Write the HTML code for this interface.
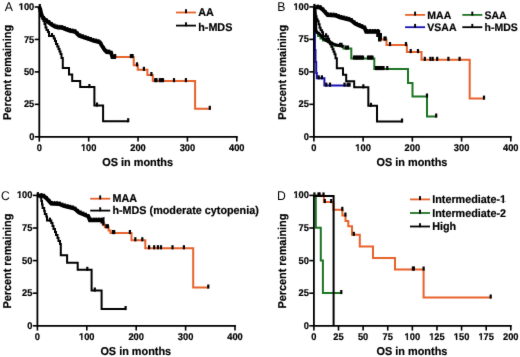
<!DOCTYPE html>
<html><head><meta charset="utf-8"><title>Survival curves</title>
<style>
html,body{margin:0;padding:0;background:#fff;}
body{width:520px;height:357px;overflow:hidden;}
svg{display:block;text-rendering:geometricPrecision;font-family:"Liberation Sans", sans-serif;}
</style></head>
<body>
<svg width="520" height="357" viewBox="0 0 520 357">
<defs><filter id="soft" x="0" y="0" width="520" height="357" filterUnits="userSpaceOnUse" color-interpolation-filters="sRGB"><feConvolveMatrix order="3" kernelMatrix="0.01 0.06 0.01 0.06 0.72 0.06 0.01 0.06 0.01" divisor="1" edgeMode="duplicate" preserveAlpha="true"/></filter></defs>
<g filter="url(#soft)">
<rect width="520" height="357" fill="#fff"/>
<path d="M39.30,7.00 L40.20,9.00 L41.00,13.00 L42.00,16.00 L43.50,18.30 L46.00,20.50 L49.00,22.60 L52.00,24.90 L55.00,26.60 L58.00,27.50 L62.00,27.70 L66.00,29.30 L70.00,30.70 L75.40,31.90 L77.00,33.50 L79.20,35.70 L84.60,37.60 L90.00,39.40 L94.00,40.90 L97.00,41.50 L99.80,42.30 L101.90,45.80 L104.70,50.00 L106.80,52.10 L111.00,52.50 L112.40,57.00 L133.70,57.00 L133.70,65.30 L137.80,65.30 L137.80,69.80 L147.40,69.80 L147.40,75.00 L152.80,75.00 L152.80,81.10 L195.10,81.10 L195.10,108.80 L209.80,108.80" fill="none" stroke="#E8622A" stroke-width="2.0" stroke-linejoin="miter" />
<path d="M39.30,7.00 L40.20,9.00 L41.00,13.00 L42.00,16.00 L43.50,18.30 L46.00,20.50 L49.00,22.60 L52.00,24.90 L55.00,26.60 L58.00,27.50 L62.00,27.70 L66.00,29.30 L70.00,30.70 L75.40,31.90 L77.00,33.50 L79.20,35.70 L84.60,37.60 L90.00,39.40 L94.00,40.90 L97.00,41.50 L99.80,42.30 L101.90,45.80 L104.70,50.00 L106.80,52.10 L111.00,52.50 L112.40,57.00 L116.00,57.00" fill="none" stroke="#000" stroke-width="4.0" stroke-linejoin="miter" />
<rect x="42.90" y="16.04" width="2.20" height="4.20" fill="#000"/><rect x="45.50" y="18.22" width="2.20" height="4.20" fill="#000"/><rect x="48.10" y="20.05" width="2.20" height="4.20" fill="#000"/><rect x="50.70" y="22.05" width="2.20" height="4.20" fill="#000"/><rect x="53.30" y="23.56" width="2.20" height="4.20" fill="#000"/><rect x="55.90" y="24.50" width="2.20" height="4.20" fill="#000"/><rect x="58.50" y="24.88" width="2.20" height="4.20" fill="#000"/><rect x="61.10" y="25.08" width="2.20" height="4.20" fill="#000"/><rect x="63.70" y="26.12" width="2.20" height="4.20" fill="#000"/><rect x="66.30" y="27.09" width="2.20" height="4.20" fill="#000"/><rect x="68.90" y="28.00" width="2.20" height="4.20" fill="#000"/><rect x="71.50" y="28.58" width="2.20" height="4.20" fill="#000"/><rect x="74.10" y="29.16" width="2.20" height="4.20" fill="#000"/><rect x="76.70" y="31.60" width="2.20" height="4.20" fill="#000"/><rect x="79.30" y="33.42" width="2.20" height="4.20" fill="#000"/><rect x="81.90" y="34.34" width="2.20" height="4.20" fill="#000"/><rect x="84.50" y="35.23" width="2.20" height="4.20" fill="#000"/><rect x="87.10" y="36.10" width="2.20" height="4.20" fill="#000"/><rect x="89.70" y="37.00" width="2.20" height="4.20" fill="#000"/><rect x="92.30" y="37.97" width="2.20" height="4.20" fill="#000"/><rect x="94.90" y="38.60" width="2.20" height="4.20" fill="#000"/><rect x="97.50" y="39.26" width="2.20" height="4.20" fill="#000"/><rect x="100.10" y="41.93" width="2.20" height="4.20" fill="#000"/><rect x="102.70" y="45.95" width="2.20" height="4.20" fill="#000"/><rect x="105.30" y="49.00" width="2.20" height="4.20" fill="#000"/><rect x="107.90" y="49.61" width="2.20" height="4.20" fill="#000"/><rect x="110.50" y="51.73" width="2.20" height="4.20" fill="#000"/>
<rect x="38.70" y="4.00" width="2.20" height="4.10" fill="#000"/><rect x="114.10" y="54.00" width="2.20" height="4.10" fill="#000"/><rect x="129.80" y="54.00" width="2.20" height="4.10" fill="#000"/><rect x="131.50" y="54.00" width="2.20" height="4.10" fill="#000"/><rect x="135.90" y="62.30" width="2.20" height="4.10" fill="#000"/><rect x="142.80" y="66.80" width="2.20" height="4.10" fill="#000"/><rect x="150.30" y="72.00" width="2.20" height="4.10" fill="#000"/><rect x="154.10" y="78.10" width="2.20" height="4.10" fill="#000"/><rect x="155.40" y="78.10" width="2.20" height="4.10" fill="#000"/><rect x="158.70" y="78.10" width="2.20" height="4.10" fill="#000"/><rect x="160.30" y="78.10" width="2.20" height="4.10" fill="#000"/><rect x="161.90" y="78.10" width="2.20" height="4.10" fill="#000"/><rect x="172.90" y="78.10" width="2.20" height="4.10" fill="#000"/><rect x="184.80" y="78.10" width="2.20" height="4.10" fill="#000"/><rect x="208.70" y="105.80" width="2.20" height="4.10" fill="#000"/>
<path d="M39.30,7.00 L40.00,7.00 L40.00,12.00 L41.00,12.00 L41.00,16.00 L42.50,16.00 L42.50,19.00 L43.50,19.00 L43.50,21.00 L44.50,21.00 L44.50,24.00 L45.50,24.00 L45.50,27.50 L46.50,27.50 L46.50,30.00 L48.00,30.00 L48.00,32.00 L49.00,32.00 L49.00,36.00 L53.80,36.00 L53.80,38.50 L55.00,38.50 L55.00,41.00 L56.00,41.00 L56.00,44.00 L57.30,44.00 L57.30,46.50 L58.50,46.50 L58.50,49.00 L59.50,49.00 L59.50,51.50 L60.50,51.50 L60.50,54.00 L61.50,54.00 L61.50,58.00 L62.80,58.00 L62.80,68.00 L69.00,68.00 L69.00,74.60 L72.20,74.60 L72.20,80.90 L80.20,80.90 L80.20,87.00 L94.40,87.00 L94.40,105.50 L103.10,105.50 L103.10,121.20 L128.20,121.20" fill="none" stroke="#000" stroke-width="2.0" stroke-linejoin="miter" />
<rect x="50.90" y="33.00" width="2.20" height="4.10" fill="#000"/><rect x="88.30" y="84.00" width="2.20" height="4.10" fill="#000"/><rect x="95.90" y="102.50" width="2.20" height="4.10" fill="#000"/><rect x="127.10" y="118.20" width="2.20" height="4.10" fill="#000"/>
<path d="M39.30,6.70 L39.30,136.80 L237.70,136.80" fill="none" stroke="#000" stroke-width="1.8"/>
<line x1="34.70" y1="136.80" x2="39.30" y2="136.80" stroke="#000" stroke-width="1.6"/>
<text x="34.30" y="139.90" font-size="9.3" font-weight="bold" text-anchor="end" transform="matrix(1,0,0,1.06,0,-8.394)"  stroke="#000" stroke-width="0.2">0</text>
<line x1="34.70" y1="104.35" x2="39.30" y2="104.35" stroke="#000" stroke-width="1.6"/>
<text x="34.30" y="107.45" font-size="9.3" font-weight="bold" text-anchor="end" transform="matrix(1,0,0,1.06,0,-6.447)"  stroke="#000" stroke-width="0.2">25</text>
<line x1="34.70" y1="71.90" x2="39.30" y2="71.90" stroke="#000" stroke-width="1.6"/>
<text x="34.30" y="75.00" font-size="9.3" font-weight="bold" text-anchor="end" transform="matrix(1,0,0,1.06,0,-4.500)"  stroke="#000" stroke-width="0.2">50</text>
<line x1="34.70" y1="39.45" x2="39.30" y2="39.45" stroke="#000" stroke-width="1.6"/>
<text x="34.30" y="42.55" font-size="9.3" font-weight="bold" text-anchor="end" transform="matrix(1,0,0,1.06,0,-2.553)"  stroke="#000" stroke-width="0.2">75</text>
<line x1="34.70" y1="7.00" x2="39.30" y2="7.00" stroke="#000" stroke-width="1.6"/>
<text x="34.30" y="10.10" font-size="9.3" font-weight="bold" text-anchor="end" transform="matrix(1,0,0,1.06,0,-0.606)"  stroke="#000" stroke-width="0.2">100</text>
<line x1="39.30" y1="136.80" x2="39.30" y2="141.60" stroke="#000" stroke-width="1.6"/>
<text x="39.30" y="150.80" font-size="9.3" font-weight="bold" text-anchor="middle" transform="matrix(1,0,0,1.06,0,-9.048)"  stroke="#000" stroke-width="0.2">0</text>
<line x1="88.67" y1="136.80" x2="88.67" y2="141.60" stroke="#000" stroke-width="1.6"/>
<text x="88.67" y="150.80" font-size="9.3" font-weight="bold" text-anchor="middle" transform="matrix(1,0,0,1.06,0,-9.048)"  stroke="#000" stroke-width="0.2">100</text>
<line x1="138.05" y1="136.80" x2="138.05" y2="141.60" stroke="#000" stroke-width="1.6"/>
<text x="138.05" y="150.80" font-size="9.3" font-weight="bold" text-anchor="middle" transform="matrix(1,0,0,1.06,0,-9.048)"  stroke="#000" stroke-width="0.2">200</text>
<line x1="187.43" y1="136.80" x2="187.43" y2="141.60" stroke="#000" stroke-width="1.6"/>
<text x="187.43" y="150.80" font-size="9.3" font-weight="bold" text-anchor="middle" transform="matrix(1,0,0,1.06,0,-9.048)"  stroke="#000" stroke-width="0.2">300</text>
<line x1="236.80" y1="136.80" x2="236.80" y2="141.60" stroke="#000" stroke-width="1.6"/>
<text x="236.80" y="150.80" font-size="9.3" font-weight="bold" text-anchor="middle" transform="matrix(1,0,0,1.06,0,-9.048)"  stroke="#000" stroke-width="0.2">400</text>
<text x="137.65" y="165.80" font-size="10.9" font-weight="bold" text-anchor="middle" transform="matrix(1,0,0,1.04,0,-6.632)"  stroke="#000" stroke-width="0.2">OS in months</text>
<text x="0" y="0" font-size="10.9" font-weight="bold" text-anchor="middle" stroke="#000" stroke-width="0.2" transform="translate(11.30,72.40) rotate(-90) scale(1,1.04)">Percent remaining</text>
<text x="4.80" y="10.80" font-size="12.2" font-weight="normal" text-anchor="start" transform="matrix(1,0,0,1.04,0,-0.432)" >A</text>
<line x1="176.00" y1="12.50" x2="196.00" y2="12.50" stroke="#E8622A" stroke-width="1.8"/>
<rect x="185.05" y="9.20" width="1.9" height="4" fill="#000"/>
<text x="198.20" y="16.30" font-size="10.8" font-weight="bold" text-anchor="start" transform="matrix(1,0,0,1.04,0,-0.652)"  stroke="#000" stroke-width="0.2">AA</text>
<line x1="176.00" y1="25.60" x2="196.00" y2="25.60" stroke="#000" stroke-width="1.8"/>
<rect x="185.05" y="22.30" width="1.9" height="4" fill="#000"/>
<text x="198.20" y="30.60" font-size="10.8" font-weight="bold" text-anchor="start" transform="matrix(1,0,0,1.04,0,-1.224)"  stroke="#000" stroke-width="0.2">h-MDS</text>
<path d="M313.90,6.90 L320.00,7.50 L323.10,10.00 L327.70,15.10 L335.40,15.40 L340.00,17.30 L350.80,20.00 L355.40,23.90 L364.70,27.90 L366.20,31.70 L378.20,31.70 L378.20,35.00 L380.00,35.00 L380.00,39.50 L386.50,39.50 L386.50,45.00 L406.90,45.00 L406.90,52.00 L421.50,52.00 L421.50,59.80 L469.70,59.80 L469.70,98.60 L484.00,98.60" fill="none" stroke="#E8622A" stroke-width="2.0" stroke-linejoin="miter" />
<path d="M313.90,6.90 L320.00,7.50 L323.10,10.00 L327.70,15.10 L335.40,15.40 L340.00,17.30 L350.80,20.00 L355.40,23.90 L364.70,27.90 L366.20,31.70 L378.20,31.70 L378.20,35.00 L380.00,35.00 L380.00,39.50 L381.50,39.50" fill="none" stroke="#000" stroke-width="4.0" stroke-linejoin="miter" />
<rect x="316.90" y="4.60" width="2.20" height="4.20" fill="#000"/><rect x="319.50" y="5.28" width="2.20" height="4.20" fill="#000"/><rect x="322.10" y="7.41" width="2.20" height="4.20" fill="#000"/><rect x="324.70" y="10.29" width="2.20" height="4.20" fill="#000"/><rect x="327.30" y="12.43" width="2.20" height="4.20" fill="#000"/><rect x="329.90" y="12.53" width="2.20" height="4.20" fill="#000"/><rect x="332.50" y="12.63" width="2.20" height="4.20" fill="#000"/><rect x="335.10" y="13.03" width="2.20" height="4.20" fill="#000"/><rect x="337.70" y="14.10" width="2.20" height="4.20" fill="#000"/><rect x="340.30" y="14.95" width="2.20" height="4.20" fill="#000"/><rect x="342.90" y="15.60" width="2.20" height="4.20" fill="#000"/><rect x="345.50" y="16.25" width="2.20" height="4.20" fill="#000"/><rect x="348.10" y="16.90" width="2.20" height="4.20" fill="#000"/><rect x="350.70" y="18.15" width="2.20" height="4.20" fill="#000"/><rect x="353.30" y="20.35" width="2.20" height="4.20" fill="#000"/><rect x="355.90" y="21.89" width="2.20" height="4.20" fill="#000"/><rect x="358.50" y="23.01" width="2.20" height="4.20" fill="#000"/><rect x="361.10" y="24.12" width="2.20" height="4.20" fill="#000"/><rect x="363.70" y="25.45" width="2.20" height="4.20" fill="#000"/><rect x="366.30" y="29.00" width="2.20" height="4.20" fill="#000"/><rect x="368.90" y="29.00" width="2.20" height="4.20" fill="#000"/><rect x="371.50" y="29.00" width="2.20" height="4.20" fill="#000"/><rect x="374.10" y="29.00" width="2.20" height="4.20" fill="#000"/><rect x="376.70" y="29.00" width="2.20" height="4.20" fill="#000"/>
<rect x="313.30" y="3.90" width="2.20" height="4.10" fill="#000"/><rect x="383.40" y="36.50" width="2.20" height="4.10" fill="#000"/><rect x="384.50" y="36.50" width="2.20" height="4.10" fill="#000"/><rect x="388.90" y="42.00" width="2.20" height="4.10" fill="#000"/><rect x="404.90" y="42.00" width="2.20" height="4.10" fill="#000"/><rect x="409.60" y="49.00" width="2.20" height="4.10" fill="#000"/><rect x="416.90" y="49.00" width="2.20" height="4.10" fill="#000"/><rect x="423.70" y="56.80" width="2.20" height="4.10" fill="#000"/><rect x="429.30" y="56.80" width="2.20" height="4.10" fill="#000"/><rect x="431.60" y="56.80" width="2.20" height="4.10" fill="#000"/><rect x="436.10" y="56.80" width="2.20" height="4.10" fill="#000"/><rect x="447.30" y="56.80" width="2.20" height="4.10" fill="#000"/><rect x="458.50" y="56.80" width="2.20" height="4.10" fill="#000"/><rect x="482.90" y="95.60" width="2.20" height="4.10" fill="#000"/>
<path d="M313.90,6.90 L314.60,6.90 L314.60,14.00 L315.30,14.00 L315.30,22.00 L315.80,22.00 L315.80,33.00 L318.00,33.00 L318.00,36.00 L320.50,36.00 L320.50,38.50 L323.00,38.50 L323.00,40.50 L328.50,40.50 L328.50,42.50 L332.00,42.50 L332.00,44.50 L335.00,44.50 L335.00,45.80 L343.50,45.80 L343.50,48.50 L351.30,48.50 L351.30,58.50 L374.30,58.50 L374.30,69.00 L408.00,69.00 L408.00,83.00 L412.50,83.00 L412.50,96.50 L427.00,96.50 L427.00,116.50 L436.20,116.50" fill="none" stroke="#1C7422" stroke-width="2.0" stroke-linejoin="miter" />
<rect x="325.10" y="37.50" width="2.20" height="4.10" fill="#000"/><rect x="338.90" y="42.80" width="2.20" height="4.10" fill="#000"/><rect x="340.40" y="42.80" width="2.20" height="4.10" fill="#000"/><rect x="344.70" y="45.50" width="2.20" height="4.10" fill="#000"/><rect x="346.90" y="45.50" width="2.20" height="4.10" fill="#000"/><rect x="352.90" y="55.50" width="2.20" height="4.10" fill="#000"/><rect x="354.40" y="55.50" width="2.20" height="4.10" fill="#000"/><rect x="355.90" y="55.50" width="2.20" height="4.10" fill="#000"/><rect x="357.40" y="55.50" width="2.20" height="4.10" fill="#000"/><rect x="358.90" y="55.50" width="2.20" height="4.10" fill="#000"/><rect x="360.40" y="55.50" width="2.20" height="4.10" fill="#000"/><rect x="361.90" y="55.50" width="2.20" height="4.10" fill="#000"/><rect x="366.90" y="55.50" width="2.20" height="4.10" fill="#000"/><rect x="368.40" y="55.50" width="2.20" height="4.10" fill="#000"/><rect x="369.90" y="55.50" width="2.20" height="4.10" fill="#000"/><rect x="371.40" y="55.50" width="2.20" height="4.10" fill="#000"/><rect x="374.90" y="66.00" width="2.20" height="4.10" fill="#000"/><rect x="376.40" y="66.00" width="2.20" height="4.10" fill="#000"/><rect x="377.90" y="66.00" width="2.20" height="4.10" fill="#000"/><rect x="379.40" y="66.00" width="2.20" height="4.10" fill="#000"/><rect x="380.90" y="66.00" width="2.20" height="4.10" fill="#000"/><rect x="382.40" y="66.00" width="2.20" height="4.10" fill="#000"/><rect x="386.20" y="66.00" width="2.20" height="4.10" fill="#000"/><rect x="425.90" y="93.50" width="2.20" height="4.10" fill="#000"/><rect x="435.10" y="113.50" width="2.20" height="4.10" fill="#000"/>
<path d="M313.90,6.90 L314.20,6.90 L314.20,20.00 L314.50,20.00 L314.50,35.00 L314.90,35.00 L314.90,50.00 L315.50,50.00 L315.50,62.00 L316.20,62.00 L316.20,73.00 L316.80,73.00 L316.80,78.30 L324.40,78.30 L324.40,85.60 L349.60,85.60" fill="none" stroke="#1810B4" stroke-width="2.0" stroke-linejoin="miter" />
<rect x="317.60" y="75.30" width="2.20" height="4.10" fill="#000"/><rect x="320.80" y="75.30" width="2.20" height="4.10" fill="#000"/><rect x="325.20" y="82.60" width="2.20" height="4.10" fill="#000"/><rect x="328.90" y="82.60" width="2.20" height="4.10" fill="#000"/><rect x="343.40" y="82.60" width="2.20" height="4.10" fill="#000"/><rect x="346.60" y="82.60" width="2.20" height="4.10" fill="#000"/><rect x="348.50" y="82.60" width="2.20" height="4.10" fill="#000"/>
<path d="M314.90,7.00 L315.30,14.00 L315.50,22.00 L315.90,30.00 L317.00,32.40 L319.00,33.40 L321.60,36.20 L323.20,38.40 L325.80,40.20 L328.30,41.70 L331.60,43.20 L334.20,44.40 L337.50,45.20 L341.70,46.10 L343.40,46.90" fill="none" stroke="#000" stroke-width="3.0" stroke-linejoin="miter" />
<path d="M313.40,7.20 L314.10,7.20 L314.10,12.20 L315.09,12.20 L315.09,16.21 L316.59,16.21 L316.59,19.21 L317.59,19.21 L317.59,21.21 L318.58,21.21 L318.58,24.21 L319.58,24.21 L319.58,27.72 L320.58,27.72 L320.58,30.22 L322.07,30.22 L322.07,32.22 L323.07,32.22 L323.07,36.22 L327.86,36.22 L327.86,38.72 L329.05,38.72 L329.05,41.23 L330.05,41.23 L330.05,44.23 L331.35,44.23 L331.35,46.73 L332.54,46.73 L332.54,49.23 L333.54,49.23 L333.54,51.73 L334.54,51.73 L334.54,54.24 L335.53,54.24 L335.53,58.24 L336.83,58.24 L336.83,68.25 L343.01,68.25 L343.01,74.85 L346.20,74.85 L346.20,81.16 L354.18,81.16 L354.18,87.26 L368.33,87.26 L368.33,105.78 L377.01,105.78 L377.01,121.49 L402.03,121.49" fill="none" stroke="#000" stroke-width="2.0" stroke-linejoin="miter" />
<rect x="324.96" y="33.22" width="2.20" height="4.10" fill="#000"/><rect x="362.25" y="84.26" width="2.20" height="4.10" fill="#000"/><rect x="369.82" y="102.78" width="2.20" height="4.10" fill="#000"/><rect x="400.93" y="118.49" width="2.20" height="4.10" fill="#000"/>
<path d="M313.90,6.60 L313.90,136.80 L511.70,136.80" fill="none" stroke="#000" stroke-width="1.8"/>
<line x1="309.30" y1="136.80" x2="313.90" y2="136.80" stroke="#000" stroke-width="1.6"/>
<text x="308.90" y="139.90" font-size="9.3" font-weight="bold" text-anchor="end" transform="matrix(1,0,0,1.06,0,-8.394)"  stroke="#000" stroke-width="0.2">0</text>
<line x1="309.30" y1="104.33" x2="313.90" y2="104.33" stroke="#000" stroke-width="1.6"/>
<text x="308.90" y="107.43" font-size="9.3" font-weight="bold" text-anchor="end" transform="matrix(1,0,0,1.06,0,-6.446)"  stroke="#000" stroke-width="0.2">25</text>
<line x1="309.30" y1="71.85" x2="313.90" y2="71.85" stroke="#000" stroke-width="1.6"/>
<text x="308.90" y="74.95" font-size="9.3" font-weight="bold" text-anchor="end" transform="matrix(1,0,0,1.06,0,-4.497)"  stroke="#000" stroke-width="0.2">50</text>
<line x1="309.30" y1="39.38" x2="313.90" y2="39.38" stroke="#000" stroke-width="1.6"/>
<text x="308.90" y="42.48" font-size="9.3" font-weight="bold" text-anchor="end" transform="matrix(1,0,0,1.06,0,-2.549)"  stroke="#000" stroke-width="0.2">75</text>
<line x1="309.30" y1="6.90" x2="313.90" y2="6.90" stroke="#000" stroke-width="1.6"/>
<text x="308.90" y="10.00" font-size="9.3" font-weight="bold" text-anchor="end" transform="matrix(1,0,0,1.06,0,-0.600)"  stroke="#000" stroke-width="0.2">100</text>
<line x1="313.90" y1="136.80" x2="313.90" y2="141.60" stroke="#000" stroke-width="1.6"/>
<text x="313.90" y="150.80" font-size="9.3" font-weight="bold" text-anchor="middle" transform="matrix(1,0,0,1.06,0,-9.048)"  stroke="#000" stroke-width="0.2">0</text>
<line x1="363.12" y1="136.80" x2="363.12" y2="141.60" stroke="#000" stroke-width="1.6"/>
<text x="363.12" y="150.80" font-size="9.3" font-weight="bold" text-anchor="middle" transform="matrix(1,0,0,1.06,0,-9.048)"  stroke="#000" stroke-width="0.2">100</text>
<line x1="412.35" y1="136.80" x2="412.35" y2="141.60" stroke="#000" stroke-width="1.6"/>
<text x="412.35" y="150.80" font-size="9.3" font-weight="bold" text-anchor="middle" transform="matrix(1,0,0,1.06,0,-9.048)"  stroke="#000" stroke-width="0.2">200</text>
<line x1="461.57" y1="136.80" x2="461.57" y2="141.60" stroke="#000" stroke-width="1.6"/>
<text x="461.57" y="150.80" font-size="9.3" font-weight="bold" text-anchor="middle" transform="matrix(1,0,0,1.06,0,-9.048)"  stroke="#000" stroke-width="0.2">300</text>
<line x1="510.80" y1="136.80" x2="510.80" y2="141.60" stroke="#000" stroke-width="1.6"/>
<text x="510.80" y="150.80" font-size="9.3" font-weight="bold" text-anchor="middle" transform="matrix(1,0,0,1.06,0,-9.048)"  stroke="#000" stroke-width="0.2">400</text>
<text x="411.95" y="165.80" font-size="10.9" font-weight="bold" text-anchor="middle" transform="matrix(1,0,0,1.04,0,-6.632)"  stroke="#000" stroke-width="0.2">OS in months</text>
<text x="0" y="0" font-size="10.9" font-weight="bold" text-anchor="middle" stroke="#000" stroke-width="0.2" transform="translate(286.10,72.35) rotate(-90) scale(1,1.04)">Percent remaining</text>
<text x="277.20" y="10.60" font-size="12.2" font-weight="normal" text-anchor="start" transform="matrix(1,0,0,1.04,0,-0.424)" >B</text>
<line x1="405.10" y1="14.90" x2="425.10" y2="14.90" stroke="#E8622A" stroke-width="1.8"/>
<rect x="414.15" y="11.60" width="1.9" height="4" fill="#000"/>
<text x="427.30" y="18.70" font-size="10.5" font-weight="bold" text-anchor="start" transform="matrix(1,0,0,1.04,0,-0.748)"  stroke="#000" stroke-width="0.2">MAA</text>
<line x1="405.10" y1="27.20" x2="425.10" y2="27.20" stroke="#1810B4" stroke-width="1.8"/>
<rect x="414.15" y="23.90" width="1.9" height="4" fill="#000"/>
<text x="427.30" y="30.80" font-size="10.5" font-weight="bold" text-anchor="start" transform="matrix(1,0,0,1.04,0,-1.232)"  stroke="#000" stroke-width="0.2">VSAA</text>
<line x1="462.30" y1="14.90" x2="482.30" y2="14.90" stroke="#1C7422" stroke-width="1.8"/>
<rect x="471.35" y="11.60" width="1.9" height="4" fill="#000"/>
<text x="484.50" y="18.70" font-size="10.5" font-weight="bold" text-anchor="start" transform="matrix(1,0,0,1.04,0,-0.748)"  stroke="#000" stroke-width="0.2">SAA</text>
<line x1="462.30" y1="27.20" x2="482.30" y2="27.20" stroke="#000" stroke-width="1.8"/>
<rect x="471.35" y="23.90" width="1.9" height="4" fill="#000"/>
<text x="484.50" y="30.80" font-size="10.5" font-weight="bold" text-anchor="start" transform="matrix(1,0,0,1.04,0,-1.232)"  stroke="#000" stroke-width="0.2">h-MDS</text>
<path d="M37.40,195.40 L43.52,196.00 L46.63,198.51 L51.25,203.63 L58.98,203.93 L63.59,205.84 L74.43,208.55 L79.05,212.47 L88.38,216.48 L89.89,220.30 L101.93,220.30 L102.70,220.00 L102.70,224.50 L104.80,224.50 L104.80,227.20 L108.60,227.20 L108.60,230.50 L110.50,230.50 L110.50,233.00 L131.50,233.00 L131.50,240.20 L145.30,240.20 L145.30,248.20 L193.20,248.20 L193.20,287.50 L208.30,287.50" fill="none" stroke="#E8622A" stroke-width="2.0" stroke-linejoin="miter" />
<path d="M37.40,195.40 L43.52,196.00 L46.63,198.51 L51.25,203.63 L58.98,203.93 L63.59,205.84 L74.43,208.55 L79.05,212.47 L88.38,216.48 L89.89,220.30 L101.93,220.30 L102.50,220.00 L102.50,223.50" fill="none" stroke="#000" stroke-width="4.0" stroke-linejoin="miter" />
<rect x="40.41" y="193.10" width="2.20" height="4.20" fill="#000"/><rect x="43.02" y="193.79" width="2.20" height="4.20" fill="#000"/><rect x="45.63" y="195.92" width="2.20" height="4.20" fill="#000"/><rect x="48.24" y="198.82" width="2.20" height="4.20" fill="#000"/><rect x="50.85" y="200.96" width="2.20" height="4.20" fill="#000"/><rect x="53.46" y="201.06" width="2.20" height="4.20" fill="#000"/><rect x="56.07" y="201.16" width="2.20" height="4.20" fill="#000"/><rect x="58.68" y="201.56" width="2.20" height="4.20" fill="#000"/><rect x="61.29" y="202.64" width="2.20" height="4.20" fill="#000"/><rect x="63.90" y="203.49" width="2.20" height="4.20" fill="#000"/><rect x="66.51" y="204.14" width="2.20" height="4.20" fill="#000"/><rect x="69.12" y="204.80" width="2.20" height="4.20" fill="#000"/><rect x="71.73" y="205.45" width="2.20" height="4.20" fill="#000"/><rect x="74.33" y="206.70" width="2.20" height="4.20" fill="#000"/><rect x="76.94" y="208.91" width="2.20" height="4.20" fill="#000"/><rect x="79.55" y="210.46" width="2.20" height="4.20" fill="#000"/><rect x="82.16" y="211.58" width="2.20" height="4.20" fill="#000"/><rect x="84.77" y="212.70" width="2.20" height="4.20" fill="#000"/><rect x="87.38" y="214.04" width="2.20" height="4.20" fill="#000"/><rect x="89.99" y="217.60" width="2.20" height="4.20" fill="#000"/><rect x="92.60" y="217.60" width="2.20" height="4.20" fill="#000"/><rect x="95.21" y="217.60" width="2.20" height="4.20" fill="#000"/><rect x="97.82" y="217.60" width="2.20" height="4.20" fill="#000"/><rect x="100.43" y="217.60" width="2.20" height="4.20" fill="#000"/>
<rect x="36.80" y="192.40" width="2.20" height="4.10" fill="#000"/><rect x="102.30" y="221.50" width="2.20" height="4.10" fill="#000"/><rect x="105.30" y="224.20" width="2.20" height="4.10" fill="#000"/><rect x="106.80" y="224.20" width="2.20" height="4.10" fill="#000"/><rect x="111.90" y="230.00" width="2.20" height="4.10" fill="#000"/><rect x="113.10" y="230.00" width="2.20" height="4.10" fill="#000"/><rect x="128.80" y="230.00" width="2.20" height="4.10" fill="#000"/><rect x="134.20" y="237.20" width="2.20" height="4.10" fill="#000"/><rect x="141.20" y="237.20" width="2.20" height="4.10" fill="#000"/><rect x="148.00" y="245.20" width="2.20" height="4.10" fill="#000"/><rect x="153.10" y="245.20" width="2.20" height="4.10" fill="#000"/><rect x="156.80" y="245.20" width="2.20" height="4.10" fill="#000"/><rect x="159.90" y="245.20" width="2.20" height="4.10" fill="#000"/><rect x="171.40" y="245.20" width="2.20" height="4.10" fill="#000"/><rect x="182.80" y="245.20" width="2.20" height="4.10" fill="#000"/><rect x="207.20" y="284.50" width="2.20" height="4.10" fill="#000"/>
<path d="M37.40,195.40 L40.60,195.40 L40.60,197.50 L41.30,197.50 L41.30,201.00 L42.00,201.00 L42.00,204.50 L42.60,204.50 L42.60,208.00 L44.20,208.00 L44.20,211.00 L44.80,211.00 L44.80,214.00 L46.30,214.00 L46.30,216.50 L47.00,216.50 L47.00,220.60 L51.30,220.60 L51.30,223.00 L52.50,223.00 L52.50,226.00 L53.50,226.00 L53.50,229.00 L55.00,229.00 L55.00,232.00 L56.00,232.00 L56.00,235.00 L57.50,235.00 L57.50,238.00 L58.50,238.00 L58.50,241.00 L60.00,241.00 L60.00,244.00 L60.80,244.00 L60.80,255.20 L67.10,255.20 L67.10,262.70 L77.70,262.70 L77.70,269.80 L91.60,269.80 L91.60,290.50 L101.60,290.50 L101.60,309.00 L125.60,309.00" fill="none" stroke="#000" stroke-width="2.0" stroke-linejoin="miter" />
<rect x="36.80" y="192.40" width="2.20" height="4.10" fill="#000"/><rect x="48.80" y="217.60" width="2.20" height="4.10" fill="#000"/><rect x="86.20" y="266.80" width="2.20" height="4.10" fill="#000"/><rect x="93.70" y="287.50" width="2.20" height="4.10" fill="#000"/><rect x="124.50" y="306.00" width="2.20" height="4.10" fill="#000"/>
<path d="M37.40,195.10 L37.40,325.80 L235.90,325.80" fill="none" stroke="#000" stroke-width="1.8"/>
<line x1="32.80" y1="325.80" x2="37.40" y2="325.80" stroke="#000" stroke-width="1.6"/>
<text x="32.40" y="328.90" font-size="9.3" font-weight="bold" text-anchor="end" transform="matrix(1,0,0,1.06,0,-19.734)"  stroke="#000" stroke-width="0.2">0</text>
<line x1="32.80" y1="293.20" x2="37.40" y2="293.20" stroke="#000" stroke-width="1.6"/>
<text x="32.40" y="296.30" font-size="9.3" font-weight="bold" text-anchor="end" transform="matrix(1,0,0,1.06,0,-17.778)"  stroke="#000" stroke-width="0.2">25</text>
<line x1="32.80" y1="260.60" x2="37.40" y2="260.60" stroke="#000" stroke-width="1.6"/>
<text x="32.40" y="263.70" font-size="9.3" font-weight="bold" text-anchor="end" transform="matrix(1,0,0,1.06,0,-15.822)"  stroke="#000" stroke-width="0.2">50</text>
<line x1="32.80" y1="228.00" x2="37.40" y2="228.00" stroke="#000" stroke-width="1.6"/>
<text x="32.40" y="231.10" font-size="9.3" font-weight="bold" text-anchor="end" transform="matrix(1,0,0,1.06,0,-13.866)"  stroke="#000" stroke-width="0.2">75</text>
<line x1="32.80" y1="195.40" x2="37.40" y2="195.40" stroke="#000" stroke-width="1.6"/>
<text x="32.40" y="198.50" font-size="9.3" font-weight="bold" text-anchor="end" transform="matrix(1,0,0,1.06,0,-11.910)"  stroke="#000" stroke-width="0.2">100</text>
<line x1="37.40" y1="325.80" x2="37.40" y2="330.60" stroke="#000" stroke-width="1.6"/>
<text x="37.40" y="339.80" font-size="9.3" font-weight="bold" text-anchor="middle" transform="matrix(1,0,0,1.06,0,-20.388)"  stroke="#000" stroke-width="0.2">0</text>
<line x1="86.80" y1="325.80" x2="86.80" y2="330.60" stroke="#000" stroke-width="1.6"/>
<text x="86.80" y="339.80" font-size="9.3" font-weight="bold" text-anchor="middle" transform="matrix(1,0,0,1.06,0,-20.388)"  stroke="#000" stroke-width="0.2">100</text>
<line x1="136.20" y1="325.80" x2="136.20" y2="330.60" stroke="#000" stroke-width="1.6"/>
<text x="136.20" y="339.80" font-size="9.3" font-weight="bold" text-anchor="middle" transform="matrix(1,0,0,1.06,0,-20.388)"  stroke="#000" stroke-width="0.2">200</text>
<line x1="185.60" y1="325.80" x2="185.60" y2="330.60" stroke="#000" stroke-width="1.6"/>
<text x="185.60" y="339.80" font-size="9.3" font-weight="bold" text-anchor="middle" transform="matrix(1,0,0,1.06,0,-20.388)"  stroke="#000" stroke-width="0.2">300</text>
<line x1="235.00" y1="325.80" x2="235.00" y2="330.60" stroke="#000" stroke-width="1.6"/>
<text x="235.00" y="339.80" font-size="9.3" font-weight="bold" text-anchor="middle" transform="matrix(1,0,0,1.06,0,-20.388)"  stroke="#000" stroke-width="0.2">400</text>
<text x="135.80" y="354.80" font-size="10.9" font-weight="bold" text-anchor="middle" transform="matrix(1,0,0,1.04,0,-14.192)"  stroke="#000" stroke-width="0.2">OS in months</text>
<text x="0" y="0" font-size="10.9" font-weight="bold" text-anchor="middle" stroke="#000" stroke-width="0.2" transform="translate(10.60,261.10) rotate(-90) scale(1,1.04)">Percent remaining</text>
<text x="1.00" y="199.70" font-size="12.2" font-weight="normal" text-anchor="start" transform="matrix(1,0,0,1.04,0,-7.988)" >C</text>
<line x1="90.20" y1="198.70" x2="110.20" y2="198.70" stroke="#E8622A" stroke-width="1.8"/>
<rect x="99.25" y="195.40" width="1.9" height="4" fill="#000"/>
<text x="112.40" y="202.50" font-size="10.8" font-weight="bold" text-anchor="start" transform="matrix(1,0,0,1.04,0,-8.100)"  stroke="#000" stroke-width="0.2">MAA</text>
<line x1="90.20" y1="210.60" x2="110.20" y2="210.60" stroke="#000" stroke-width="1.8"/>
<rect x="99.25" y="207.30" width="1.9" height="4" fill="#000"/>
<text x="112.40" y="214.40" font-size="10.8" font-weight="bold" text-anchor="start" transform="matrix(1,0,0,1.04,0,-8.576)"  stroke="#000" stroke-width="0.2">h-MDS (moderate cytopenia)</text>
<path d="M313.90,195.40 L323.90,195.40 L323.90,202.00 L333.40,202.00 L333.40,209.80 L342.40,209.80 L342.40,215.50 L345.50,215.50 L345.50,221.00 L348.30,221.00 L348.30,226.30 L352.00,226.30 L352.00,234.80 L359.80,234.80 L359.80,246.60 L373.00,246.60 L373.00,258.00 L395.00,258.00 L395.00,269.50 L423.60,269.50 L423.60,297.50 L490.70,297.50" fill="none" stroke="#E8622A" stroke-width="2.0" stroke-linejoin="miter" />
<rect x="313.30" y="192.40" width="2.20" height="4.10" fill="#000"/><rect x="317.40" y="192.40" width="2.20" height="4.10" fill="#000"/><rect x="318.50" y="192.40" width="2.20" height="4.10" fill="#000"/><rect x="322.40" y="192.40" width="2.20" height="4.10" fill="#000"/><rect x="323.70" y="199.00" width="2.20" height="4.10" fill="#000"/><rect x="330.10" y="199.00" width="2.20" height="4.10" fill="#000"/><rect x="341.20" y="206.80" width="2.20" height="4.10" fill="#000"/><rect x="344.30" y="212.50" width="2.20" height="4.10" fill="#000"/><rect x="352.70" y="231.80" width="2.20" height="4.10" fill="#000"/><rect x="411.80" y="266.50" width="2.20" height="4.10" fill="#000"/><rect x="412.80" y="266.50" width="2.20" height="4.10" fill="#000"/><rect x="422.50" y="266.50" width="2.20" height="4.10" fill="#000"/><rect x="489.60" y="294.50" width="2.20" height="4.10" fill="#000"/>
<path d="M313.90,195.40 L315.80,195.40 L315.80,227.80 L320.80,227.80 L320.80,260.40 L322.90,260.40 L322.90,293.00 L341.30,293.00" fill="none" stroke="#1C7422" stroke-width="2.0" stroke-linejoin="miter" />
<rect x="340.20" y="290.00" width="2.20" height="4.10" fill="#000"/>
<path d="M313.90,196.00 L333.60,196.00 L333.60,325.80" fill="none" stroke="#000" stroke-width="2.0" stroke-linejoin="miter" />
<path d="M313.90,195.10 L313.90,325.80 L511.70,325.80" fill="none" stroke="#000" stroke-width="1.8"/>
<line x1="309.30" y1="325.80" x2="313.90" y2="325.80" stroke="#000" stroke-width="1.6"/>
<text x="308.90" y="328.90" font-size="9.3" font-weight="bold" text-anchor="end" transform="matrix(1,0,0,1.06,0,-19.734)"  stroke="#000" stroke-width="0.2">0</text>
<line x1="309.30" y1="293.20" x2="313.90" y2="293.20" stroke="#000" stroke-width="1.6"/>
<text x="308.90" y="296.30" font-size="9.3" font-weight="bold" text-anchor="end" transform="matrix(1,0,0,1.06,0,-17.778)"  stroke="#000" stroke-width="0.2">25</text>
<line x1="309.30" y1="260.60" x2="313.90" y2="260.60" stroke="#000" stroke-width="1.6"/>
<text x="308.90" y="263.70" font-size="9.3" font-weight="bold" text-anchor="end" transform="matrix(1,0,0,1.06,0,-15.822)"  stroke="#000" stroke-width="0.2">50</text>
<line x1="309.30" y1="228.00" x2="313.90" y2="228.00" stroke="#000" stroke-width="1.6"/>
<text x="308.90" y="231.10" font-size="9.3" font-weight="bold" text-anchor="end" transform="matrix(1,0,0,1.06,0,-13.866)"  stroke="#000" stroke-width="0.2">75</text>
<line x1="309.30" y1="195.40" x2="313.90" y2="195.40" stroke="#000" stroke-width="1.6"/>
<text x="308.90" y="198.50" font-size="9.3" font-weight="bold" text-anchor="end" transform="matrix(1,0,0,1.06,0,-11.910)"  stroke="#000" stroke-width="0.2">100</text>
<line x1="313.90" y1="325.80" x2="313.90" y2="330.60" stroke="#000" stroke-width="1.6"/>
<text x="313.90" y="339.80" font-size="9.3" font-weight="bold" text-anchor="middle" transform="matrix(1,0,0,1.06,0,-20.388)"  stroke="#000" stroke-width="0.2">0</text>
<line x1="338.51" y1="325.80" x2="338.51" y2="330.60" stroke="#000" stroke-width="1.6"/>
<text x="338.51" y="339.80" font-size="9.3" font-weight="bold" text-anchor="middle" transform="matrix(1,0,0,1.06,0,-20.388)"  stroke="#000" stroke-width="0.2">25</text>
<line x1="363.12" y1="325.80" x2="363.12" y2="330.60" stroke="#000" stroke-width="1.6"/>
<text x="363.12" y="339.80" font-size="9.3" font-weight="bold" text-anchor="middle" transform="matrix(1,0,0,1.06,0,-20.388)"  stroke="#000" stroke-width="0.2">50</text>
<line x1="387.74" y1="325.80" x2="387.74" y2="330.60" stroke="#000" stroke-width="1.6"/>
<text x="387.74" y="339.80" font-size="9.3" font-weight="bold" text-anchor="middle" transform="matrix(1,0,0,1.06,0,-20.388)"  stroke="#000" stroke-width="0.2">75</text>
<line x1="412.35" y1="325.80" x2="412.35" y2="330.60" stroke="#000" stroke-width="1.6"/>
<text x="412.35" y="339.80" font-size="9.3" font-weight="bold" text-anchor="middle" transform="matrix(1,0,0,1.06,0,-20.388)"  stroke="#000" stroke-width="0.2">100</text>
<line x1="436.96" y1="325.80" x2="436.96" y2="330.60" stroke="#000" stroke-width="1.6"/>
<text x="436.96" y="339.80" font-size="9.3" font-weight="bold" text-anchor="middle" transform="matrix(1,0,0,1.06,0,-20.388)"  stroke="#000" stroke-width="0.2">125</text>
<line x1="461.57" y1="325.80" x2="461.57" y2="330.60" stroke="#000" stroke-width="1.6"/>
<text x="461.57" y="339.80" font-size="9.3" font-weight="bold" text-anchor="middle" transform="matrix(1,0,0,1.06,0,-20.388)"  stroke="#000" stroke-width="0.2">150</text>
<line x1="486.19" y1="325.80" x2="486.19" y2="330.60" stroke="#000" stroke-width="1.6"/>
<text x="486.19" y="339.80" font-size="9.3" font-weight="bold" text-anchor="middle" transform="matrix(1,0,0,1.06,0,-20.388)"  stroke="#000" stroke-width="0.2">175</text>
<line x1="510.80" y1="325.80" x2="510.80" y2="330.60" stroke="#000" stroke-width="1.6"/>
<text x="510.80" y="339.80" font-size="9.3" font-weight="bold" text-anchor="middle" transform="matrix(1,0,0,1.06,0,-20.388)"  stroke="#000" stroke-width="0.2">200</text>
<text x="411.95" y="354.80" font-size="10.9" font-weight="bold" text-anchor="middle" transform="matrix(1,0,0,1.04,0,-14.192)"  stroke="#000" stroke-width="0.2">OS in months</text>
<text x="0" y="0" font-size="10.9" font-weight="bold" text-anchor="middle" stroke="#000" stroke-width="0.2" transform="translate(286.20,261.10) rotate(-90) scale(1,1.04)">Percent remaining</text>
<text x="277.00" y="199.90" font-size="12.2" font-weight="normal" text-anchor="start" transform="matrix(1,0,0,1.04,0,-7.996)" >D</text>
<line x1="410.00" y1="199.40" x2="430.00" y2="199.40" stroke="#E8622A" stroke-width="1.8"/>
<rect x="419.05" y="196.10" width="1.9" height="4" fill="#000"/>
<text x="432.20" y="203.20" font-size="10.8" font-weight="bold" text-anchor="start" transform="matrix(1,0,0,1.04,0,-8.128)"  stroke="#000" stroke-width="0.2">Intermediate-1</text>
<line x1="410.00" y1="213.00" x2="430.00" y2="213.00" stroke="#1C7422" stroke-width="1.8"/>
<rect x="419.05" y="209.70" width="1.9" height="4" fill="#000"/>
<text x="432.20" y="216.80" font-size="10.8" font-weight="bold" text-anchor="start" transform="matrix(1,0,0,1.04,0,-8.672)"  stroke="#000" stroke-width="0.2">Intermediate-2</text>
<line x1="410.00" y1="226.50" x2="430.00" y2="226.50" stroke="#000" stroke-width="1.8"/>
<rect x="419.05" y="223.20" width="1.9" height="4" fill="#000"/>
<text x="432.20" y="230.30" font-size="10.8" font-weight="bold" text-anchor="start" transform="matrix(1,0,0,1.04,0,-9.212)"  stroke="#000" stroke-width="0.2">High</text>
<rect x="18.08" y="8.80" width="2.82" height="1.95" fill="#fff"/><rect x="22.28" y="8.80" width="1.62" height="1.95" fill="#fff"/><rect x="80.21" y="149.50" width="2.82" height="1.95" fill="#fff"/><rect x="84.41" y="149.50" width="1.62" height="1.95" fill="#fff"/><rect x="292.68" y="8.70" width="2.82" height="1.95" fill="#fff"/><rect x="296.88" y="8.70" width="1.62" height="1.95" fill="#fff"/><rect x="354.66" y="149.50" width="2.82" height="1.95" fill="#fff"/><rect x="358.86" y="149.50" width="1.62" height="1.95" fill="#fff"/><rect x="16.18" y="197.20" width="2.82" height="1.95" fill="#fff"/><rect x="20.38" y="197.20" width="1.62" height="1.95" fill="#fff"/><rect x="78.34" y="338.50" width="2.82" height="1.95" fill="#fff"/><rect x="82.54" y="338.50" width="1.62" height="1.95" fill="#fff"/><rect x="292.68" y="197.20" width="2.82" height="1.95" fill="#fff"/><rect x="296.88" y="197.20" width="1.62" height="1.95" fill="#fff"/><rect x="403.89" y="338.50" width="2.82" height="1.95" fill="#fff"/><rect x="408.09" y="338.50" width="1.62" height="1.95" fill="#fff"/><rect x="428.50" y="338.50" width="2.82" height="1.95" fill="#fff"/><rect x="432.70" y="338.50" width="1.62" height="1.95" fill="#fff"/><rect x="453.11" y="338.50" width="2.82" height="1.95" fill="#fff"/><rect x="457.31" y="338.50" width="1.62" height="1.95" fill="#fff"/><rect x="477.73" y="338.50" width="2.82" height="1.95" fill="#fff"/><rect x="481.93" y="338.50" width="1.62" height="1.95" fill="#fff"/><rect x="499.28" y="201.75" width="3.17" height="2.10" fill="#fff"/><rect x="504.03" y="201.75" width="2.45" height="2.10" fill="#fff"/>
</g>
</svg>
</body></html>
